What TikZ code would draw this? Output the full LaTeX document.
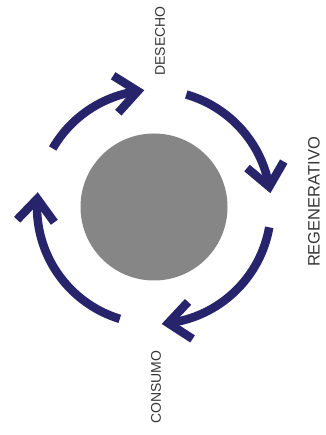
\documentclass[tikz,border=0pt]{standalone}
\usepackage{fontspec}
\setmainfont{Liberation Sans}
\definecolor{navy}{RGB}{40,36,108}
\definecolor{coregray}{RGB}{134,134,134}
\definecolor{labelgray}{RGB}{55,55,55}
\begin{document}
\begin{tikzpicture}[x=1pt,y=1pt,
  cyclearc/.style={draw=navy,line width=8.5pt,line cap=butt},
  chevron/.style={draw=navy,line width=8.5pt,line cap=butt,line join=miter},
  lbl/.style={text=labelgray,rotate=90,inner sep=0pt}]
\useasboundingbox (0,0) rectangle (325,435);
\fill[white] (0,0) rectangle (325,435);
\node[circle,fill=coregray,minimum size=147pt,inner sep=0pt] (core) at (154,228) {};
\foreach \s/\e/\n in {150/95/a, 74/7/b, -10/-86/c, -107/-187/d}{
  \draw[cyclearc] (core.center) ++(\s:117) coordinate (tail\n) arc[start angle=\s, end angle=\e+3, radius=117];
  \draw[chevron] (core.center) ++(\e+3:117) coordinate (tip\n) ++(\e+133:29) -- (tip\n) -- ++(\e+53:29);
}
\node[lbl,font=\fontsize{14}{16}\selectfont] (desecho) at (160,394) {DESECHO};
\node[lbl,font=\fontsize{16.5}{18}\selectfont] (regen) at (314,233) {REGENERATIVO};
\node[lbl,font=\fontsize{14}{16}\selectfont] (consumo) at (156,48) {CONSUMO};
\end{tikzpicture}
\end{document}
